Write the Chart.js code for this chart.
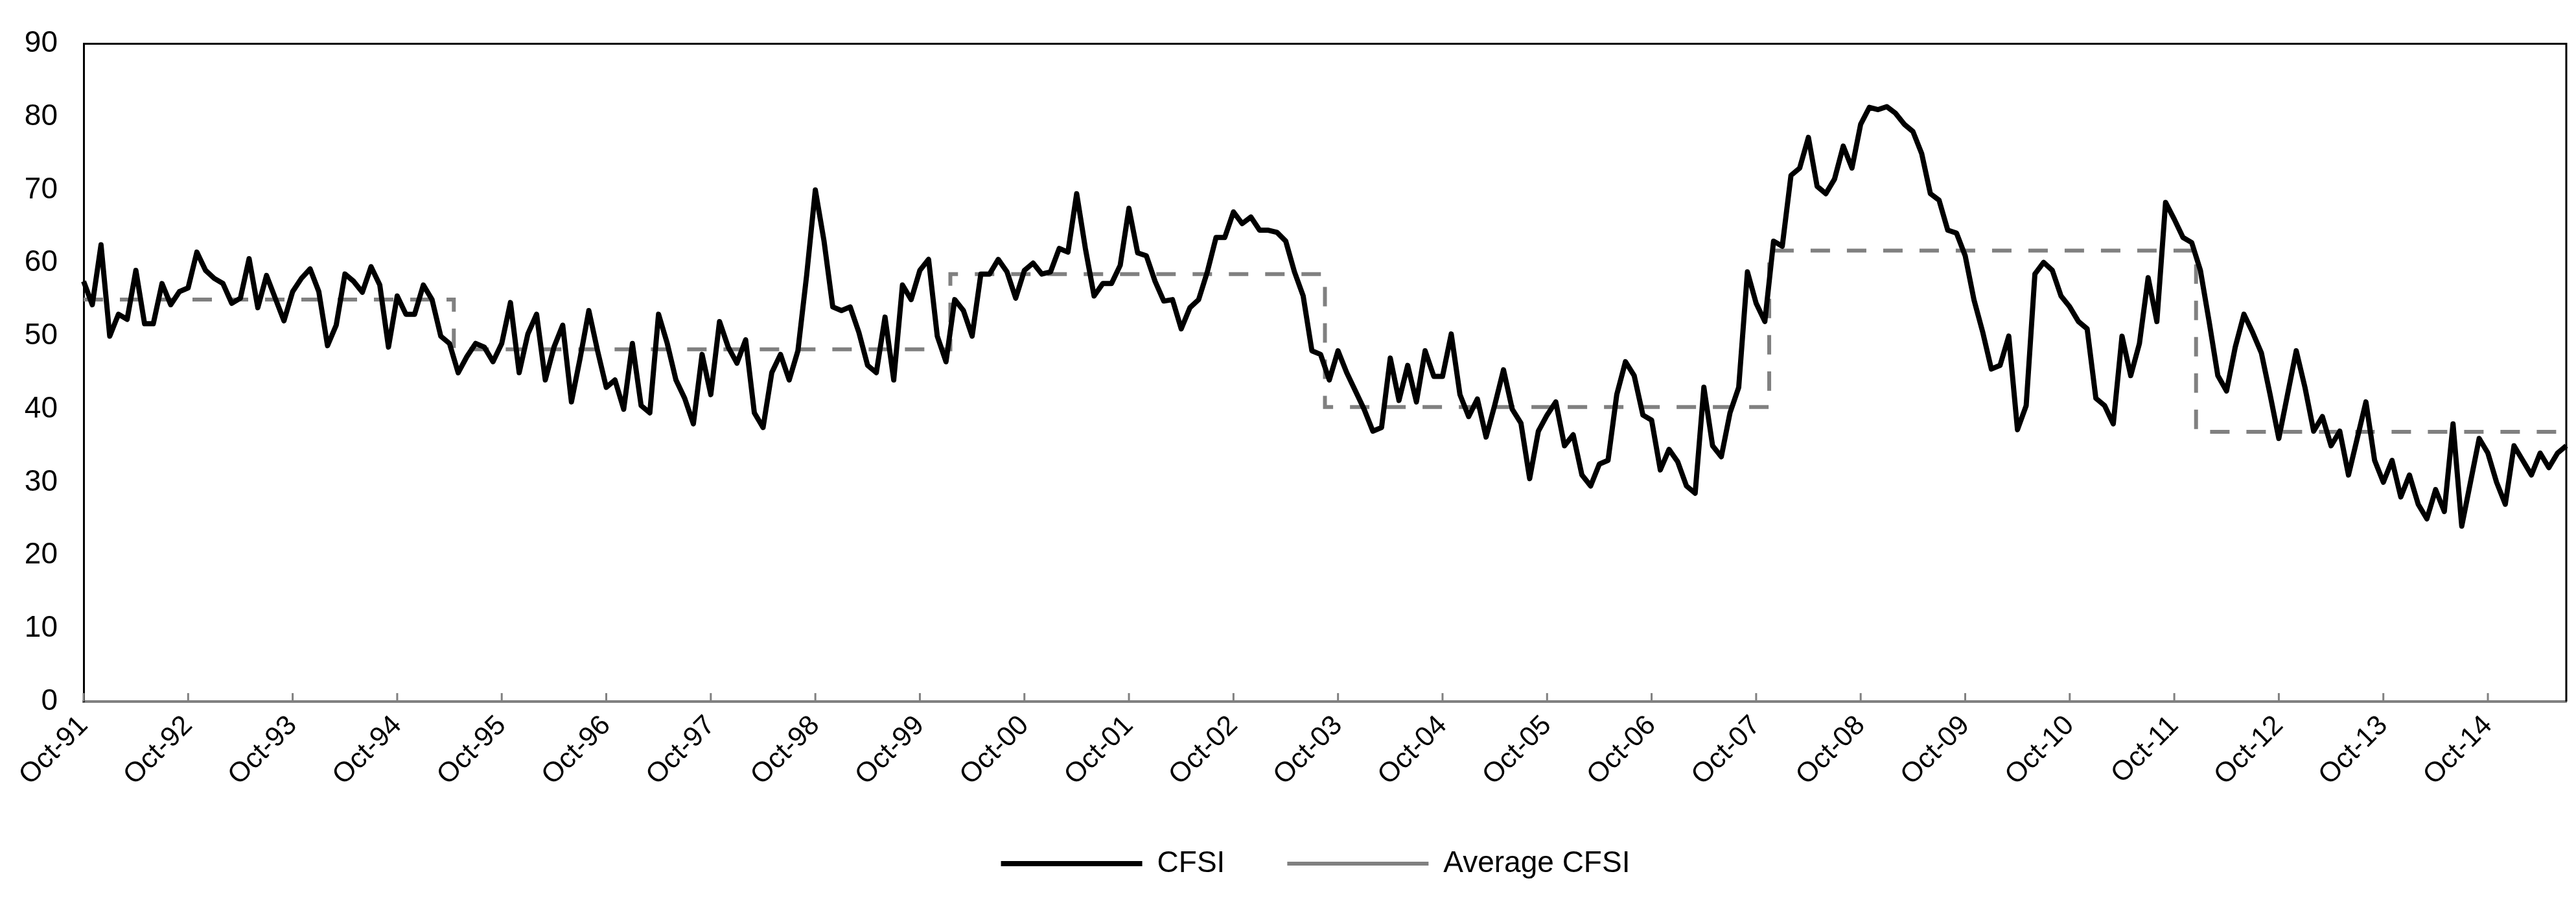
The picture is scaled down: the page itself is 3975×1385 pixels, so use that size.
<!DOCTYPE html>
<html>
<head>
<meta charset="utf-8">
<script src="https://cdn.jsdelivr.net/npm/chart.js@4/dist/chart.umd.min.js"></script>
<style>
  html, body { margin: 0; padding: 0; background: #fff; }
  canvas { display: block; }
</style>
</head>
<body>
<canvas id="myChart" width="3975" height="1385"></canvas>
<script>
// monthly categories, Oct-91 .. Jul-15
var monthNames = ['Jan','Feb','Mar','Apr','May','Jun','Jul','Aug','Sep','Oct','Nov','Dec'];
var monthLabels = [];
for (var i = 0; i < 286; i++) {
  var m = (9 + i) % 12;
  var yr = (1991 + Math.floor((9 + i) / 12)) % 100;
  monthLabels.push(monthNames[m] + '-' + (yr < 10 ? '0' + yr : '' + yr));
}

// CFSI, one value per month
var cfsi = [
  57.5, 54.3, 62.5, 50.0, 53.0, 52.3, 59.0, 51.7, 51.7, 57.2, 54.3, 56.1,   // Oct-91
  56.6, 61.5, 59.0, 57.9, 57.2, 54.5, 55.2, 60.6, 53.9, 58.3, 55.2, 52.1,   // Oct-92
  56.1, 57.9, 59.2, 56.1, 48.7, 51.5, 58.5, 57.5, 56.0, 59.5, 57.0, 48.5,   // Oct-93
  55.5, 53.0, 53.0, 57.0, 55.0, 50.0, 49.0, 45.0, 47.2, 49.0, 48.5, 46.5,   // Oct-94
  49.0, 54.6, 45.0, 50.3, 53.0, 44.0, 48.5, 51.5, 41.0, 47.0, 53.5, 48.0,   // Oct-95
  43.0, 44.0, 40.0, 49.0, 40.5, 39.5, 53.0, 49.0, 44.0, 41.5, 38.0, 47.5,   // Oct-96
  42.0, 52.0, 48.5, 46.3, 49.5, 39.5, 37.5, 45.0, 47.5, 44.0, 48.0, 58.3,   // Oct-97
  70.0, 63.0, 54.0, 53.5, 54.0, 50.5, 46.0, 45.0, 52.6, 44.0, 57.0, 55.0,   // Oct-98
  59.0, 60.5, 50.0, 46.5, 55.0, 53.5, 50.0, 58.5, 58.5, 60.5, 58.8, 55.2,   // Oct-99
  59.0, 60.0, 58.5, 58.8, 62.0, 61.5, 69.5, 62.0, 55.5, 57.2, 57.2, 59.7,   // Oct-00
  67.5, 61.4, 61.0, 57.5, 54.8, 55.0, 51.0, 53.9, 55.0, 58.8, 63.5, 63.5,   // Oct-01
  67.0, 65.4, 66.3, 64.5, 64.5, 64.2, 63.0, 58.8, 55.5, 48.0, 47.5, 44.0,   // Oct-02
  48.0, 45.0, 42.5, 40.0, 37.0, 37.5, 47.0, 41.2, 46.0, 41.0, 48.0, 44.5,   // Oct-03
  44.5, 50.3, 42.0, 39.0, 41.4, 36.2, 40.6, 45.4, 40.0, 38.1, 30.5, 37.0,   // Oct-04
  39.2, 41.0, 35.0, 36.5, 31.0, 29.5, 32.5, 33.0, 42.0, 46.5, 44.6, 39.2,   // Oct-05
  38.5, 31.7, 34.5, 32.8, 29.5, 28.5, 43.0, 35.0, 33.5, 39.5, 43.0, 58.8,   // Oct-06
  54.5, 52.0, 63.0, 62.3, 72.0, 73.0, 77.2, 70.5, 69.5, 71.5, 76.0, 73.0,   // Oct-07
  79.0, 81.3, 81.0, 81.4, 80.5, 79.0, 78.0, 75.0, 69.5, 68.6, 64.5, 64.1,   // Oct-08
  61.0, 55.0, 50.6, 45.5, 46.0, 50.0, 37.2, 40.5, 58.5, 60.1, 59.0, 55.5,   // Oct-09
  54.0, 52.0, 51.0, 41.5, 40.5, 38.0, 50.0, 44.6, 49.0, 58.0, 52.0, 68.3,   // Oct-10
  66.0, 63.5, 62.8, 59.0, 52.0, 44.6, 42.5, 48.5, 53.0, 50.5, 47.7, 42.0,   // Oct-11
  36.0, 42.0, 48.0, 43.0, 37.0, 39.0, 35.0, 37.0, 31.0, 36.0, 41.0, 33.0,   // Oct-12
  30.0, 33.0, 28.0, 31.0, 27.0, 25.0, 29.0, 26.0, 38.0, 24.0, 30.0, 36.0,   // Oct-13
  34.0, 30.0, 27.0, 35.0, 33.0, 31.0, 34.0, 32.0, 34.0, 35.0                // Oct-14
];

// average CFSI by period
var avgPeriodStart = ['Oct-91', 'May-95', 'Feb-00', 'Sep-03', 'Dec-07', 'Jan-12'];
var avgLevel = [55.0, 48.2, 58.5, 40.3, 61.7, 36.9];

var avgCfsi = [];
var p = 0;
for (var i = 0; i < monthLabels.length; i++) {
  if (p + 1 < avgPeriodStart.length && monthLabels[i] === avgPeriodStart[p + 1]) p++;
  avgCfsi.push(avgLevel[p]);
}

var fontFamily = "'Liberation Sans', Arial, sans-serif";

// box around the plot + small inward ticks on the date axis
var frame = {
  id: 'frame',
  afterLayout: function(chart) {
    // legend centred a bit right, like the original
    chart.legend.left += 50;
    chart.legend.right += 50;
  },
  afterDraw: function(chart) {
    var ctx = chart.ctx, a = chart.chartArea, x = chart.scales.x;
    ctx.save();
    ctx.strokeStyle = '#808080';
    ctx.lineWidth = 3;
    x.ticks.forEach(function(t) {
      var px = x.getPixelForValue(t.value);
      ctx.beginPath();
      ctx.moveTo(px, a.bottom);
      ctx.lineTo(px, a.bottom - 13);
      ctx.stroke();
    });
    ctx.strokeStyle = '#000';
    ctx.lineWidth = 3;
    ctx.beginPath();
    ctx.moveTo(a.left, a.top);
    ctx.lineTo(a.right, a.top);
    ctx.lineTo(a.right, a.bottom);
    ctx.stroke();
    ctx.restore();
  }
};

var ctx = document.getElementById('myChart');
var myChart = new Chart(ctx, {
  type: 'line',
  data: {
    labels: monthLabels,
    datasets: [{
      label: 'CFSI',
      data: cfsi,
      borderColor: '#000',
      borderWidth: 8,
      borderJoinStyle: 'round',
      pointRadius: 0,
      tension: 0,
      order: 1
    }, {
      label: 'Average CFSI',
      data: avgCfsi,
      borderColor: '#808080',
      borderWidth: 6,
      borderDash: [30, 26],
      stepped: 'middle',
      pointRadius: 0,
      order: 2
    }]
  },
  options: {
    responsive: false,
    animation: false,
    layout: { padding: { left: 0, right: 15, top: 52, bottom: 20 } },
    plugins: {
      tooltip: { enabled: false },
      legend: {
        position: 'bottom',
        labels: {
          usePointStyle: true,
          pointStyle: 'line',
          pointStyleWidth: 218,
          padding: 96,
          color: '#000',
          font: { family: fontFamily, size: 46 }
        }
      }
    },
    scales: {
      x: {
        grid: { display: false, drawTicks: false },
        border: { display: true, color: '#808080', width: 4 },
        ticks: {
          autoSkip: false,
          maxRotation: 45,
          minRotation: 45,
          padding: 12,
          color: '#000',
          font: { family: fontFamily, size: 43 }
        },
        afterBuildTicks: function(axis) {
          axis.ticks = axis.ticks.filter(function(t) {
            return monthLabels[t.value].indexOf('Oct') === 0;
          });
        },
        afterFit: function(scale) { scale.height = 131; }
      },
      y: {
        min: 0,
        max: 90,
        grid: { display: false, drawTicks: false },
        border: { display: true, color: '#000', width: 3 },
        ticks: {
          stepSize: 10,
          padding: 40,
          color: '#000',
          font: { family: fontFamily, size: 46 }
        },
        afterFit: function(scale) { scale.width = 129; }
      }
    }
  },
  plugins: [frame]
});
</script>
</body>
</html>
